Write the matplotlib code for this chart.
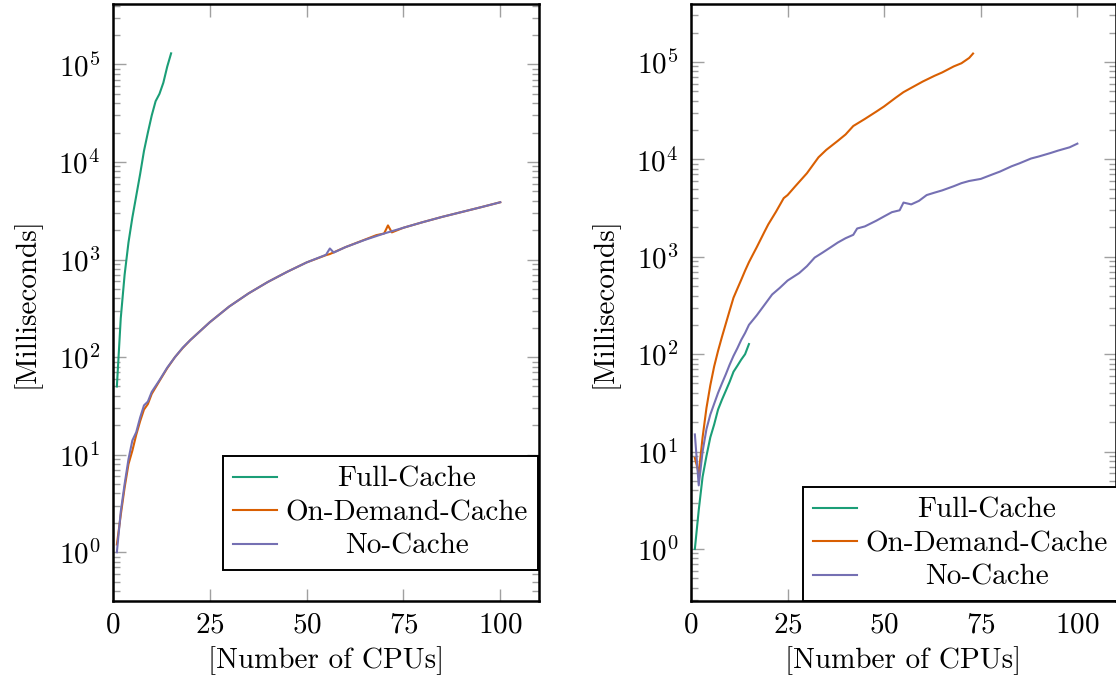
import matplotlib.pyplot as plt
from matplotlib.ticker import LogLocator, NullFormatter, FixedLocator

# Computer Modern look, like the pgfplots original
plt.rcParams['font.family'] = 'serif'
plt.rcParams['font.serif'] = ['cmr10']
plt.rcParams['mathtext.fontset'] = 'cm'
plt.rcParams['axes.formatter.use_mathtext'] = True
plt.rcParams['axes.unicode_minus'] = False
plt.rcParams['font.size'] = 21

labels = ['Full-Cache', 'On-Demand-Cache', 'No-Cache']
colors = ['#1b9e77', '#d95f02', '#7570b3']

# ---- left panel ----
left_full_x = [1, 2, 3, 4, 5, 6, 7, 8, 9, 10, 11, 12, 13, 14, 15]
left_full_y = [50, 250, 700, 1500, 2700, 4500, 7500, 13000, 20000, 30000,
               42000, 50000, 65000, 95000, 130000]

left_od_x = [1, 2, 3, 4, 5, 6, 7, 8, 9, 10, 12, 14, 16, 18, 20, 25, 30, 35, 40,
             45, 50, 55, 56, 60, 65, 68, 70, 71, 72, 75, 80, 85, 90, 95, 100]
left_od_y = [1.2, 2.4, 4.6, 8, 11, 16, 22, 29, 33, 42, 57, 77, 100, 124, 150,
             228, 330, 450, 590, 750, 935, 1110, 1140, 1340, 1600, 1780, 1850,
             2240, 1900, 2120, 2420, 2740, 3070, 3440, 3870]

left_nc_x = [1, 2, 3, 4, 5, 6, 7, 8, 9, 10, 12, 14, 16, 18, 20, 25, 30, 35, 40,
             45, 50, 54, 55, 56, 57, 60, 65, 70, 75, 80, 85, 90, 95, 100]
left_nc_y = [1, 2.6, 5, 9, 14, 17, 24, 32, 35, 44, 58, 78, 100, 125, 150, 228,
             330, 450, 590, 750, 935, 1080, 1120, 1300, 1180, 1340, 1590, 1850,
             2120, 2420, 2740, 3070, 3440, 3870]

# ---- right panel ----
right_full_x = [1, 2, 3, 4, 5, 6, 7, 8, 9, 10, 11, 12, 13, 14, 15]
right_full_y = [1, 2.5, 5.5, 9, 14, 19, 27, 34, 42, 52, 66, 76, 88, 100, 127]

right_od_x = [1, 2, 3, 4, 5, 6, 7, 8, 9, 10, 11, 12, 13, 14, 15, 16, 17, 18,
              19, 20, 22, 24, 25, 27, 30, 33, 35, 38, 40, 42, 45, 48, 50, 53,
              55, 58, 60, 63, 65, 68, 70, 72, 73]
right_od_y = [8.6, 6, 14, 28, 48, 75, 108, 150, 205, 280, 380, 470, 580, 720,
              880, 1050, 1250, 1500, 1800, 2150, 2900, 4000, 4300, 5300, 7200,
              10500, 12500, 15500, 18000, 22000, 26000, 31000, 35000, 43000,
              49000, 57000, 63000, 72000, 78000, 90000, 97000, 110000, 122000]

right_nc_x = [1, 2, 3, 4, 5, 6, 7, 8, 9, 10, 11, 12, 13, 14, 15, 17, 19, 21,
              23, 25, 28, 30, 32, 34, 36, 38, 40, 42, 43, 45, 48, 50, 52, 54,
              55, 57, 59, 61, 63, 65, 68, 70, 72, 75, 78, 80, 83, 85, 88, 90,
              93, 95, 98, 100]
right_nc_y = [15, 4.5, 10, 17, 24, 31, 40, 50, 62, 78, 96, 115, 140, 165, 200,
              250, 320, 410, 480, 570, 680, 800, 980, 1100, 1240, 1400, 1550,
              1680, 1950, 2050, 2350, 2600, 2870, 3000, 3600, 3450, 3750, 4300,
              4550, 4800, 5300, 5700, 6000, 6300, 7000, 7500, 8500, 9100,
              10200, 10700, 11600, 12300, 13300, 14500]

fig = plt.figure(figsize=(11.16, 6.81), dpi=100)
ax1 = fig.add_axes([113 / 1116, 80 / 681, 426 / 1116, 597 / 681])
ax2 = fig.add_axes([691 / 1116, 80 / 681, 425 / 1116, 597 / 681])

panels = [
    (ax1, [(left_full_x, left_full_y), (left_od_x, left_od_y), (left_nc_x, left_nc_y)],
     (10 ** -0.5, 10 ** 5.62), (223 - 113) / 426, (601 - 570) / 597),
    (ax2, [(right_full_x, right_full_y), (right_od_x, right_od_y), (right_nc_x, right_nc_y)],
     (10 ** -0.534, 10 ** 5.595), (803 - 691) / 425, 0.0),
]

for ax, series, ylim, lx, ly in panels:
    for (x, y), lab, c in zip(series, labels, colors):
        ax.plot(x, y, color=c, lw=1.5, label=lab)
    ax.set_yscale('log')
    ax.set_xlim(0, 110)
    ax.set_ylim(*ylim)
    ax.xaxis.set_major_locator(FixedLocator([0, 25, 50, 75, 100]))
    ax.yaxis.set_major_locator(LogLocator(base=10, numticks=20))
    ax.yaxis.set_minor_locator(LogLocator(base=10, subs=range(2, 10), numticks=20))
    ax.yaxis.set_minor_formatter(NullFormatter())
    ax.tick_params(which='both', direction='in', top=True, right=True,
                   color='#a0a0a0', width=1)
    ax.tick_params(which='major', length=9)
    ax.tick_params(which='minor', length=5)
    ax.tick_params(axis='x', pad=8)
    ax.tick_params(axis='y', pad=9)
    for s in ax.spines.values():
        s.set_linewidth(1.8)
    ax.set_xlabel('[Number of CPUs]')
    ax.set_ylabel('[Milliseconds]')
    ax.xaxis.set_label_coords(0.5, -0.076)
    ax.xaxis.label.set_va('top')
    ax.yaxis.set_label_coords(-0.171, 0.5)

    leg = ax.legend(loc='lower left', bbox_to_anchor=(lx, ly), borderaxespad=0,
                    fancybox=False, framealpha=1, edgecolor='black',
                    handlelength=1.5, handletextpad=0.3, borderpad=0.35,
                    labelspacing=0.24)
    leg.get_frame().set_linewidth(1.4)
    leg.set_zorder(5)

# center the legend entries like pgfplots does
fig.canvas.draw()
r = fig.canvas.get_renderer()
for ax in (ax1, ax2):
    texts = ax.get_legend().get_texts()
    widths = [t.get_window_extent(r).width for t in texts]
    w = max(widths)
    for t, wi in zip(texts, widths):
        t.set_position(((w - wi) / 2, 0))

fig.savefig('out.png', dpi=100)
